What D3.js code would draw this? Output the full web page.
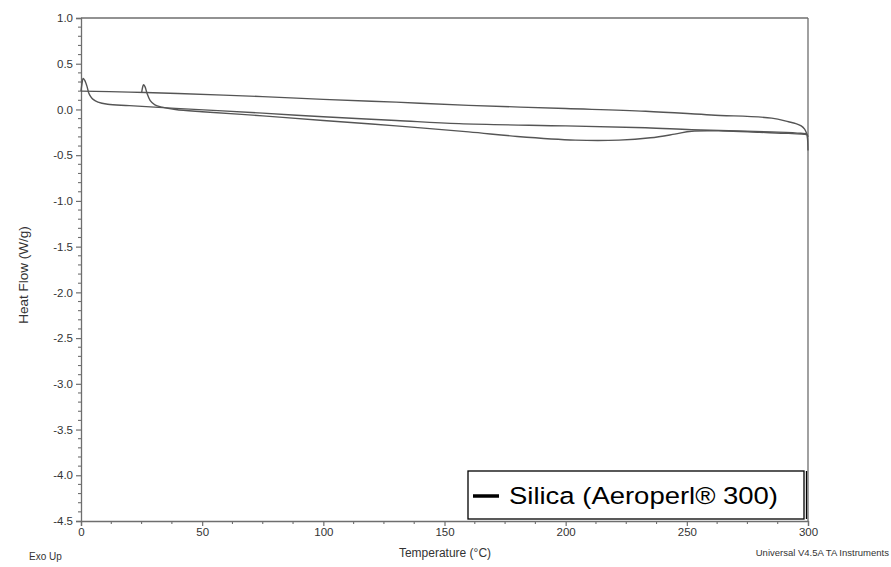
<!DOCTYPE html>
<html><head><meta charset="utf-8">
<script src="https://cdn.jsdelivr.net/npm/d3@7"></script>
<style>body{margin:0;background:#fff;}svg{display:block;font-family:Arial,"Liberation Sans",sans-serif;}</style>
</head><body>
<svg id="c" width="891" height="567"></svg>
<script>
// Data (temperature °C, heat flow W/g)
const coolingRun = [[300,-0.45],[299.8,-0.32],[299.4,-0.26],[298.6,-0.215],[297.2,-0.18],[295,-0.155],[292,-0.135],[285,-0.095],[260,-0.06],[233,-0.02],[200,0.01],[160,0.045],[130,0.08],[100,0.11],[75,0.14],[40,0.175],[20,0.19],[0,0.20]];
const heatingRun1 = [[0,0.20],[0.4,0.28],[0.9,0.34],[1.5,0.32],[2.5,0.25],[3.2,0.18],[4,0.14],[5,0.11],[7,0.08],[11,0.057],[20,0.042],[39,0.012],[75,-0.04],[100,-0.08],[130,-0.12],[156,-0.155],[200,-0.18],[233,-0.2],[252,-0.22],[285,-0.245],[297,-0.26],[299.5,-0.27],[300,-0.3]];
const heatingRun2 = [[25,0.18],[25.4,0.24],[25.8,0.27],[26.4,0.25],[27.2,0.18],[28.5,0.10],[30.5,0.05],[33.5,0.025],[39,0.0],[50,-0.025],[75,-0.07],[100,-0.12],[130,-0.18],[160,-0.245],[180,-0.295],[204,-0.335],[222,-0.335],[235,-0.31],[245,-0.27],[252,-0.238],[265,-0.235],[280,-0.25],[292,-0.262],[299.5,-0.275]];
const xTicks = [0,50,100,150,200,250,300];
const yTicks = [1.0,0.5,0.0,-0.5,-1.0,-1.5,-2.0,-2.5,-3.0,-3.5,-4.0,-4.5];
const legendLabel = "Silica (Aeroperl\u00AE 300)";

const svg = d3.select("#c");
const L=81, R=808, T=18, B=521;
const x = d3.scaleLinear().domain([0,300]).range([L,R]);
const y = d3.scaleLinear().domain([-4.5,1.0]).range([B,T]);
const axisCol = "#6e6e6e", textCol = "#333";

// frame top and right
svg.append("line").attr("x1",L).attr("x2",R).attr("y1",T).attr("y2",T).attr("stroke",axisCol).attr("stroke-width",1.3);
svg.append("line").attr("x1",R).attr("x2",R).attr("y1",T).attr("y2",B).attr("stroke",axisCol).attr("stroke-width",1.3);

// minor ticks
const xMinor = d3.range(0,300.001,12.5).filter(v=>v%50!==0);
const yMinor = d3.range(-4.5,1.0001,0.1).map(v=>Math.round(v*10)/10).filter(v=>Math.abs(v*2-Math.round(v*2))>1e-6);
const fmtY = d => d.toFixed(1);
const gx = svg.append("g").attr("transform",`translate(0,${B})`)
  .call(d3.axisBottom(x).tickValues(xTicks).tickFormat(d=>String(d)).tickSize(5).tickPadding(2));
const gy = svg.append("g").attr("transform",`translate(${L},0)`)
  .call(d3.axisLeft(y).tickValues(yTicks).tickFormat(fmtY).tickSize(5).tickPadding(3));
[gx,gy].forEach(g=>{
  g.select(".domain").attr("stroke",axisCol).attr("stroke-width",1.3);
  g.selectAll(".tick line").attr("stroke",axisCol).attr("stroke-width",1.2);
  g.selectAll(".tick text").attr("fill",textCol).style("font-size","11.5px").style("font-family","Arial, 'Liberation Sans', sans-serif");
});
svg.append("g").selectAll("line").data(xMinor).join("line")
  .attr("x1",d=>x(d)).attr("x2",d=>x(d)).attr("y1",B).attr("y2",B+3).attr("stroke",axisCol).attr("stroke-width",1.1);
svg.append("g").selectAll("line").data(yMinor).join("line")
  .attr("x1",L-3).attr("x2",L).attr("y1",d=>y(d)).attr("y2",d=>y(d)).attr("stroke",axisCol).attr("stroke-width",1.1);

// curves
const lineC = d3.line().x(d=>x(d[0])).y(d=>y(d[1])).curve(d3.curveCatmullRom.alpha(0.5));
[coolingRun, heatingRun1, heatingRun2].forEach(s=>{
  svg.append("path").attr("d",lineC(s)).attr("fill","none").attr("stroke","#555").attr("stroke-width",1.4);
});

// legend
svg.append("rect").attr("x",468).attr("y",471).attr("width",336).attr("height",48)
  .attr("fill","#fff").attr("stroke","#000").attr("stroke-width",1.3);
svg.append("line").attr("x1",806.5).attr("x2",806.5).attr("y1",471).attr("y2",519).attr("stroke","#000").attr("stroke-width",1.3);
svg.append("line").attr("x1",473).attr("x2",499).attr("y1",496).attr("y2",496).attr("stroke","#000").attr("stroke-width",3.5);
svg.append("text").attr("x",509).attr("y",504).text(legendLabel).attr("fill","#000").style("font-size","24.5px")
  .attr("textLength",269).attr("lengthAdjust","spacingAndGlyphs");

// axis titles
svg.append("text").attr("x",445).attr("y",557).attr("text-anchor","middle").attr("fill",textCol).style("font-size","12px").text("Temperature (\u00B0C)");
svg.append("text").attr("transform","translate(28,275) rotate(-90)").attr("text-anchor","middle").attr("fill",textCol).style("font-size","13.5px").text("Heat Flow (W/g)");
svg.append("text").attr("x",29).attr("y",560).attr("fill",textCol).style("font-size","10px").text("Exo Up");
svg.append("text").attr("x",889).attr("y",556).attr("text-anchor","end").attr("fill",textCol).style("font-size","9.5px").text("Universal V4.5A TA Instruments");
</script>
</body></html>
